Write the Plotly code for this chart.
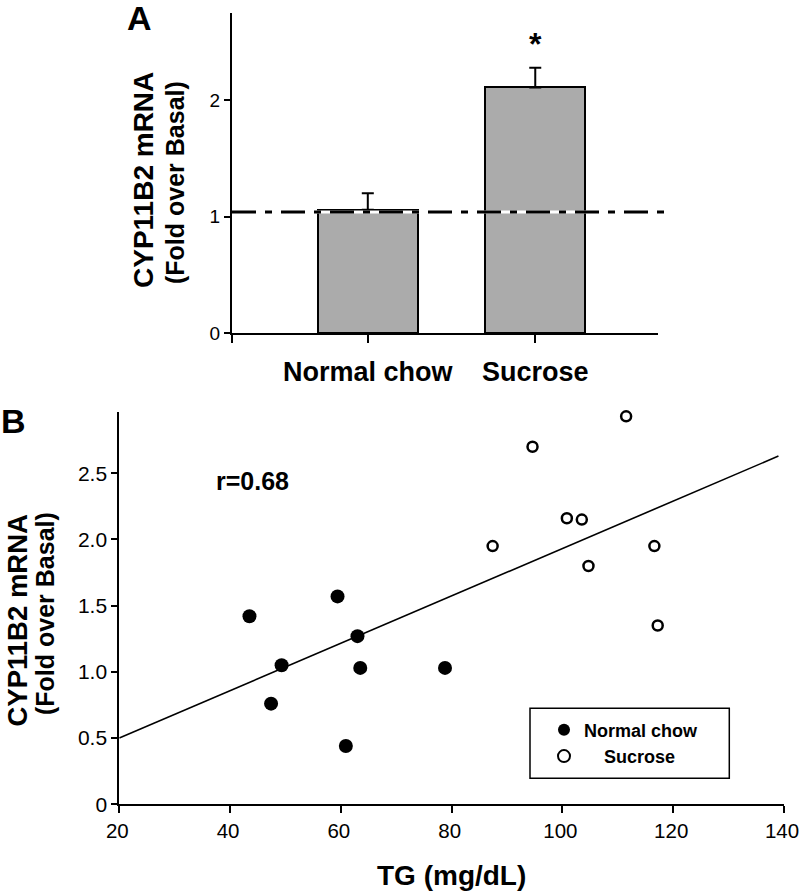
import plotly.graph_objects as go

# ---------------- data ----------------
# Panel A
categories = ["Normal chow", "Sucrose"]
bar_means = [1.06, 2.11]
bar_sem = [0.14, 0.17]
basal_level = 1.04
sig_label = "*"

# Panel B
nc_tg = [43.5, 47.4, 49.3, 59.4, 60.9, 63.0, 63.5, 78.8]
nc_mrna = [1.42, 0.76, 1.05, 1.57, 0.44, 1.27, 1.03, 1.03]
su_tg = [87.4, 94.6, 100.8, 103.5, 104.7, 111.5, 116.6, 117.2]
su_mrna = [1.95, 2.70, 2.16, 2.15, 1.80, 2.93, 1.95, 1.35]
fit_tg = [20, 139]
fit_mrna = [0.50, 2.63]
r_text = "r=0.68"

a_yticks = [0, 1, 2]
b_xticks = [20, 40, 60, 80, 100, 120, 140]
b_yticks = [0, 0.5, 1.0, 1.5, 2.0, 2.5]
b_yticklabels = ["0", "0.5", "1.0", "1.5", "2.0", "2.5"]

W, H = 800, 895
FONT = "Arial, Liberation Sans, Helvetica, sans-serif"


def px(x):
    return x / W


def py(y):
    return 1 - y / H


fig = go.Figure()

# Panel A bars
fig.add_trace(go.Bar(
    x=list(range(len(categories))), y=bar_means,
    width=0.6,
    marker=dict(color="#ababab", line=dict(color="black", width=2)),
    error_y=dict(type="data", symmetric=False, array=bar_sem,
                 arrayminus=[0] * len(bar_sem), color="black",
                 thickness=2, width=6),
    xaxis="x", yaxis="y", showlegend=False,
))

# Panel B scatter
fig.add_trace(go.Scatter(
    x=nc_tg, y=nc_mrna, mode="markers", name="Normal chow",
    marker=dict(symbol="circle", size=14, color="black"),
    xaxis="x2", yaxis="y2", cliponaxis=False,
))
fig.add_trace(go.Scatter(
    x=su_tg, y=su_mrna, mode="markers",
    name="\u00a0\u00a0\u00a0\u00a0Sucrose",
    marker=dict(symbol="circle", size=10, color="white",
                line=dict(color="black", width=2.5)),
    xaxis="x2", yaxis="y2", cliponaxis=False,
))
fig.add_trace(go.Scatter(
    x=fit_tg, y=fit_mrna, mode="lines",
    line=dict(color="black", width=1.6),
    xaxis="x2", yaxis="y2", showlegend=False,
))

axis_common = dict(showgrid=False, zeroline=False, showline=True,
                   linecolor="black", linewidth=2, ticks="outside",
                   tickcolor="black", tickwidth=2, automargin=False)

a_xrange = [-0.811, 1.733]

fig.update_layout(
    width=W, height=H,
    margin=dict(l=0, r=0, t=0, b=0, autoexpand=False),
    paper_bgcolor="white", plot_bgcolor="white",
    font=dict(family=FONT, color="black"),
    xaxis=dict(domain=[px(232), px(658)], anchor="y",
               range=a_xrange, tickvals=[a_xrange[0], 0, 1],
               ticktext=[""] + categories,
               ticklen=8, tickfont=dict(size=27, weight="bold"),
               ticklabelstandoff=6, **axis_common),
    yaxis=dict(domain=[py(333), py(13)], anchor="x",
               range=[0, 2.75], tickvals=a_yticks,
               ticklen=6, tickfont=dict(size=19), **axis_common),
    xaxis2=dict(domain=[px(119.3), px(784)], anchor="y2",
                range=[20, 140], tickvals=b_xticks,
                ticklen=7, tickfont=dict(size=20.5), ticklabeloverflow="allow",
                ticklabelshift=-2,
                title=dict(text="TG (mg/dL)", font=dict(size=28, weight="bold"),
                           standoff=24),
                **axis_common),
    yaxis2=dict(domain=[py(804.3), py(411.7)], anchor="x2",
                range=[0, 2.965], tickvals=b_yticks, ticktext=b_yticklabels,
                ticklen=6, tickfont=dict(size=21), **axis_common),
    legend=dict(x=px(544), y=py(711.5), xanchor="left", yanchor="top",
                bgcolor="rgba(0,0,0,0)", borderwidth=0,
                font=dict(size=18, weight="bold"),
                itemsizing="constant", tracegroupgap=0),
    bargap=0,
)

shapes = [
    # white under-line so gaps look white over the bars
    dict(type="line", xref="paper", yref="y", x0=px(232), x1=px(669),
         y0=basal_level, y1=basal_level, line=dict(color="white", width=3),
         layer="above"),
    dict(type="line", xref="paper", yref="y", x0=px(232), x1=px(669),
         y0=basal_level, y1=basal_level,
         line=dict(color="black", width=3, dash="24px,9px,7px,9px"),
         layer="above"),
    # legend box
    dict(type="rect", xref="paper", yref="paper", x0=px(530), x1=px(729.3),
         y0=py(778.3), y1=py(708.3), line=dict(color="black", width=1.5),
         fillcolor="rgba(0,0,0,0)"),
]
fig.update_layout(shapes=shapes)

annotations = [
    dict(text="<b>A</b>", x=px(139), y=py(18), xref="paper", yref="paper",
         showarrow=False, font=dict(size=34), xanchor="center", yanchor="middle"),
    dict(text="<b>B</b>", x=px(13), y=py(421), xref="paper", yref="paper",
         showarrow=False, font=dict(size=34), xanchor="center", yanchor="middle"),
    dict(text="<b>" + sig_label + "</b>", x=1, y=2.485, xref="x", yref="y",
         showarrow=False, font=dict(size=32), xanchor="center", yanchor="middle"),
    dict(text="<b>" + r_text + "</b>", x=px(252.5), y=py(481), xref="paper",
         yref="paper", showarrow=False, font=dict(size=25),
         xanchor="center", yanchor="middle"),
    # y titles panel A
    dict(text="<b>CYP11B2 mRNA</b>", x=px(143), y=py(180), xref="paper",
         yref="paper", showarrow=False, textangle=-90, font=dict(size=28),
         xanchor="center", yanchor="middle"),
    dict(text="<b>(Fold over Basal)</b>", x=px(175), y=py(183), xref="paper",
         yref="paper", showarrow=False, textangle=-90, font=dict(size=25),
         xanchor="center", yanchor="middle"),
    # y titles panel B
    dict(text="<b>CYP11B2 mRNA</b>", x=px(17), y=py(620.5), xref="paper",
         yref="paper", showarrow=False, textangle=-90, font=dict(size=27.5),
         xanchor="center", yanchor="middle"),
    dict(text="<b>(Fold over Basal)</b>", x=px(45), y=py(614), xref="paper",
         yref="paper", showarrow=False, textangle=-90, font=dict(size=25),
         xanchor="center", yanchor="middle"),
]
fig.update_layout(annotations=annotations)

fig.write_html(
    "out.html",
    config={"displayModeBar": False},
    post_script="document.body.style.margin='0';"
                "document.body.style.overflow='hidden';",
)
